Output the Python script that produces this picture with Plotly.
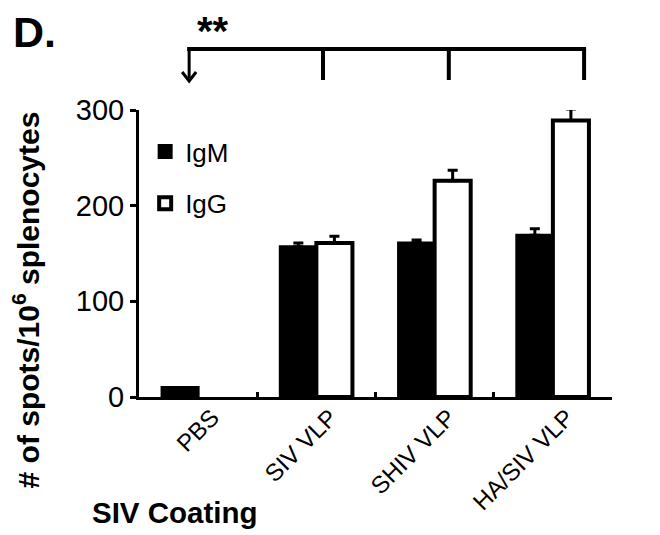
import plotly.graph_objects as go

categories = ["PBS", "SIV VLP", "SHIV VLP", "HA/SIV VLP"]
igm_values = [10, 157, 161, 169]
igm_errors = [0, 4, 3, 7]
igg_values = [None, 161, 226, 289]
igg_errors = [0, 7, 11, 12]
y_ticks = [0, 100, 200, 300]

FONT = "Arial, Liberation Sans, sans-serif"

fig = go.Figure()
fig.add_trace(go.Bar(
    name="IgM", x=categories, y=igm_values, legendgroup="m",
    marker=dict(color="black", line=dict(color="black", width=3)),
    error_y=dict(type="data", array=igm_errors, arrayminus=[0]*4, symmetric=False,
                 color="black", thickness=3, width=5),
))
fig.add_trace(go.Bar(
    name="IgG", x=categories, y=igg_values, legendgroup="g",
    marker=dict(color="white", line=dict(color="black", width=4)),
    error_y=dict(type="data", array=igg_errors, arrayminus=[0]*4, symmetric=False,
                 color="black", thickness=3, width=5),
))

fig.update_layout(
    width=652, height=527,
    margin=dict(l=131, r=48, t=102, b=138),
    paper_bgcolor="white", plot_bgcolor="white",
    barmode="group", bargap=0.39, bargroupgap=0,
    font=dict(family=FONT, color="black"),
    showlegend=True,
    legend=dict(x=0.013, y=0.937, xanchor="left", yanchor="top",
                font=dict(size=26, family=FONT, color="black"),
                bgcolor="rgba(0,0,0,0)", tracegroupgap=15),
    xaxis=dict(showline=True, linewidth=3, linecolor="black", ticks="inside",
               tickson="boundaries", ticklen=5, tickwidth=3, tickcolor="black",
               tickangle=-45, tickfont=dict(size=24, family=FONT), showgrid=False,
               zeroline=False, ticklabelshift=14, ticklabelstandoff=-6),
    yaxis=dict(range=[0, 300], tickvals=y_ticks, showline=True, linewidth=3,
               linecolor="black", ticks="outside", ticklen=6, tickwidth=3,
               tickcolor="black", tickfont=dict(size=29, family=FONT),
               showgrid=False, zeroline=False),
)

bold = lambda s: "<b>" + s + "</b>"
common = dict(xref="paper", yref="paper", xanchor="center", yanchor="middle", showarrow=False)
fig.add_annotation(text=bold("D."), x=-0.221, y=1.272, font=dict(size=43, family=FONT), **common)
fig.add_annotation(text=bold("**"), x=0.156, y=1.275, font=dict(size=40, family=FONT), **common)
fig.add_annotation(text=bold("SIV Coating"), x=0.076, y=-0.401, font=dict(size=29.5, family=FONT), **common)
fig.add_annotation(text=bold("# of spots/10<sup>6</sup> splenocytes"), x=-0.238, y=0.338,
                   textangle=-90, font=dict(size=30, family=FONT), **common)

# bracket (paper coords; plot area is 473 x 287 px)
PX = 1 / 473
PY = 1 / 287
line_y = 1.2125
tick_y = 1.1045
xs = [0.106, 0.389, 0.655, 0.941]
fig.add_shape(type="line", xref="paper", yref="paper", x0=xs[0] - 2 * PX, x1=xs[-1] + 2 * PX,
              y0=line_y, y1=line_y, line=dict(color="black", width=4))
for xv in xs[1:]:
    fig.add_shape(type="line", xref="paper", yref="paper", x0=xv, x1=xv, y0=line_y, y1=tick_y,
                  line=dict(color="black", width=4))
# arrow shaft and chevron head
fig.add_shape(type="line", xref="paper", yref="paper", x0=xs[0], x1=xs[0], y0=line_y, y1=tick_y + 2 * PY,
              line=dict(color="black", width=3))
tip = tick_y - 1 * PY
head = (f"M {xs[0] - 7 * PX},{tip + 9 * PY} L {xs[0]},{tip} L {xs[0] + 7 * PX},{tip + 9 * PY}")
fig.add_shape(type="path", xref="paper", yref="paper", path=head,
              line=dict(color="black", width=3))

fig.write_html("out.html")
